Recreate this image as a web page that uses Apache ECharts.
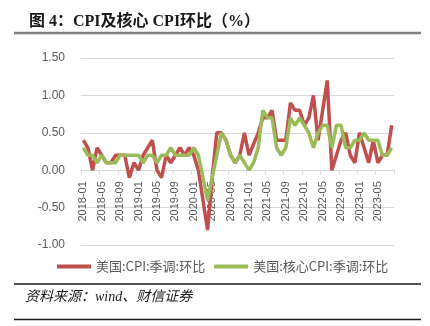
<!DOCTYPE html>
<html>
<head>
<meta charset="utf-8">
<style>
  html, body { margin: 0; padding: 0; background: #ffffff; }
  #chart { width: 430px; height: 326px; }
</style>
<script src="https://cdn.jsdelivr.net/npm/echarts@6/dist/echarts.min.js"></script>
</head>
<body>
<div id="chart"></div>
<script>
// Months, 2018-01 .. 2023-08
const months = [
  '2018-01','2018-02','2018-03','2018-04','2018-05','2018-06','2018-07','2018-08','2018-09','2018-10','2018-11','2018-12',
  '2019-01','2019-02','2019-03','2019-04','2019-05','2019-06','2019-07','2019-08','2019-09','2019-10','2019-11','2019-12',
  '2020-01','2020-02','2020-03','2020-04','2020-05','2020-06','2020-07','2020-08','2020-09','2020-10','2020-11','2020-12',
  '2021-01','2021-02','2021-03','2021-04','2021-05','2021-06','2021-07','2021-08','2021-09','2021-10','2021-11','2021-12',
  '2022-01','2022-02','2022-03','2022-04','2022-05','2022-06','2022-07','2022-08','2022-09','2022-10','2022-11','2022-12',
  '2023-01','2023-02','2023-03','2023-04','2023-05','2023-06','2023-07','2023-08'
];

// US CPI, seasonally adjusted, month over month (%)
const cpiMoM = [
  0.4, 0.3, 0.0, 0.3, 0.2, 0.1, 0.1, 0.2, 0.2, 0.2, -0.1, 0.1,
  0.0, 0.2, 0.3, 0.4, 0.0, -0.1, 0.2, 0.1, 0.2, 0.3, 0.2, 0.3,
  0.2, 0.0, -0.4, -0.8, -0.1, 0.5, 0.5, 0.4, 0.2, 0.1, 0.2, 0.5,
  0.2, 0.35, 0.5, 0.7, 0.7, 0.8, 0.4, 0.4, 0.4, 0.9, 0.8, 0.8,
  0.6, 0.7, 1.0, 0.4, 0.8, 1.2, 0.0, 0.2, 0.4, 0.5, 0.2, 0.1,
  0.5, 0.3, 0.1, 0.4, 0.1, 0.2, 0.2, 0.6
];

// US core CPI, seasonally adjusted, month over month (%)
const coreMoM = [
  0.3, 0.2, 0.2, 0.1, 0.2, 0.1, 0.1, 0.1, 0.2, 0.2, 0.2, 0.2,
  0.2, 0.1, 0.2, 0.2, 0.1, 0.2, 0.2, 0.3, 0.2, 0.2, 0.2, 0.2,
  0.3, 0.2, -0.1, -0.4, -0.1, 0.2, 0.5, 0.4, 0.2, 0.1, 0.2, 0.1,
  0.0, 0.1, 0.3, 0.8, 0.7, 0.7, 0.3, 0.2, 0.3, 0.7, 0.6, 0.7,
  0.6, 0.5, 0.3, 0.5, 0.6, 0.6, 0.3, 0.6, 0.6, 0.3, 0.3, 0.4,
  0.4, 0.5, 0.4, 0.4, 0.4, 0.2, 0.2, 0.3
];

const seriesNames = ['美国:CPI:季调:环比', '美国:核心CPI:季调:环比'];
const titleText = '图 4：CPI及核心 CPI环比（%）';
const sourceText = '资料来源：wind、财信证券';

const chart = echarts.init(document.getElementById('chart'), null, { renderer: 'canvas' });

const axisTextColor = '#595959';
const gridColor = '#d9d9d9';

// grid spans y = 58 (1.5) .. 245 (-1.0); the zero line sits 75px above the bottom edge
const gridTop = 58, gridBottomY = 245;
const zeroOffset = -(gridBottomY - (gridTop + (gridBottomY - gridTop) * 1.5 / 2.5));

chart.setOption({
  backgroundColor: '#ffffff',
  animation: false,
  title: {
    text: titleText,
    left: 24,
    top: 9,
    textStyle: {
      fontFamily: '"Liberation Serif", "Noto Sans CJK SC", serif',
      fontWeight: 'bold',
      fontSize: 16,
      color: '#1a1a1a'
    }
  },
  graphic: [
    { type: 'line', shape: { x1: 14, y1: 33, x2: 421, y2: 33 }, style: { stroke: '#7f7f7f', lineWidth: 2.5 } },
    { type: 'line', shape: { x1: 14, y1: 284, x2: 421, y2: 284 }, style: { stroke: '#1a1a1a', lineWidth: 1.5 } },
    { type: 'line', shape: { x1: 14, y1: 319.5, x2: 421, y2: 319.5 }, style: { stroke: '#1a1a1a', lineWidth: 1.5 } },
    {
      type: 'text', left: 25, top: 290,
      style: {
        text: sourceText,
        fontFamily: '"Liberation Serif", "Noto Sans CJK SC", serif',
        fontStyle: 'italic',
        fontSize: 14,
        fill: '#1a1a1a'
      }
    }
  ],
  legend: {
    left: 52,
    top: 255,
    itemGap: 9,
    itemWidth: 34,
    itemHeight: 4,
    icon: 'rect',
    textStyle: {
      fontFamily: '"Noto Sans CJK SC", sans-serif',
      fontSize: 13,
      color: axisTextColor
    },
    data: seriesNames
  },
  grid: { left: 81, right: 36, top: gridTop, bottom: 326 - gridBottomY, containLabel: false },
  xAxis: {
    type: 'category',
    data: months,
    boundaryGap: true,
    position: 'bottom',
    offset: zeroOffset,
    axisLine: { onZero: false, lineStyle: { color: gridColor, width: 1 } },
    axisTick: { show: true, interval: 3, length: 4, lineStyle: { color: gridColor } },
    axisLabel: {
      interval: 3,
      rotate: 90,
      margin: 11,
      fontFamily: '"Liberation Sans", sans-serif',
      fontSize: 11,
      color: axisTextColor
    },
    splitLine: { show: false }
  },
  yAxis: {
    type: 'value',
    min: -1,
    max: 1.5,
    interval: 0.5,
    axisLine: { show: false },
    axisTick: { show: false },
    axisLabel: {
      margin: 16,
      fontFamily: '"Liberation Sans", sans-serif',
      fontSize: 12,
      color: axisTextColor,
      formatter: v => v.toFixed(2)
    },
    splitLine: { lineStyle: { color: gridColor, width: 1 } }
  },
  series: [
    {
      name: seriesNames[0],
      type: 'line',
      data: cpiMoM,
      symbol: 'none',
      lineStyle: { color: '#C0504D', width: 3.5 },
      itemStyle: { color: '#C0504D' }
    },
    {
      name: seriesNames[1],
      type: 'line',
      data: coreMoM,
      symbol: 'none',
      lineStyle: { color: '#9BBB59', width: 3.5 },
      itemStyle: { color: '#9BBB59' }
    }
  ]
});
</script>
</body>
</html>
